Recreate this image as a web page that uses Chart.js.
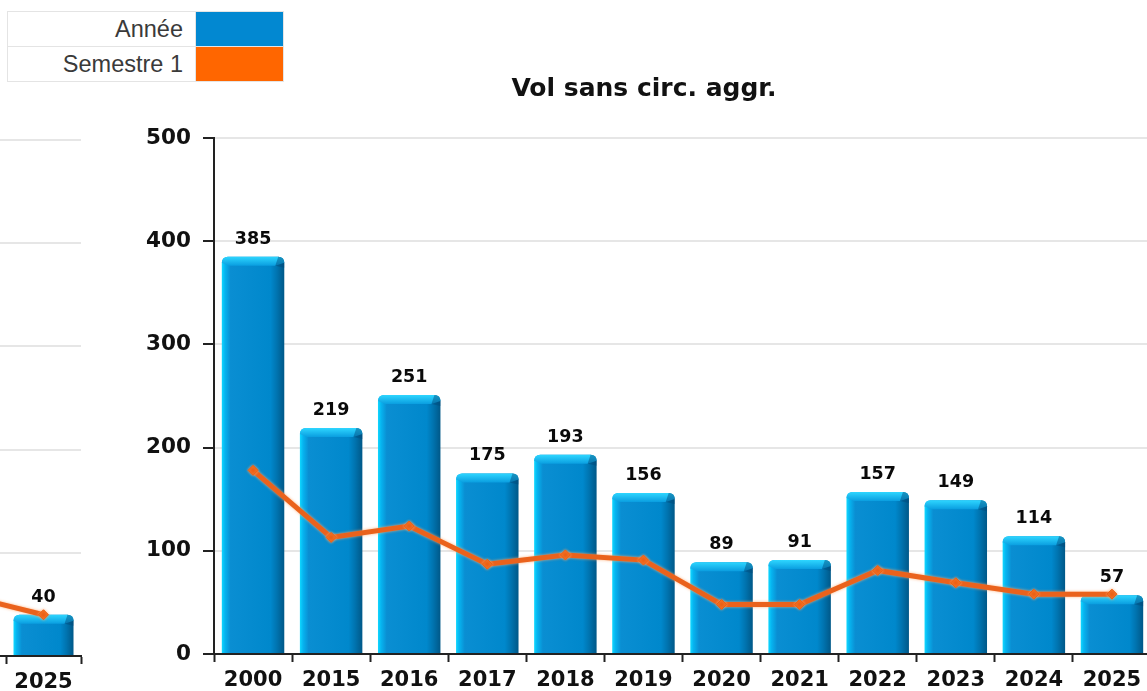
<!DOCTYPE html>
<html><head><meta charset="utf-8">
<script src="https://cdn.jsdelivr.net/npm/chart.js@4.4.1/dist/chart.umd.min.js"></script>
<style>
html,body{margin:0;padding:0;background:#fff;overflow:hidden;width:1147px;height:691px;}
#wrap{position:relative;width:1147px;height:691px;overflow:hidden;background:#fff;}
#side{position:absolute;left:-75px;top:0;}
#main{position:absolute;left:0;top:0;}
#legend{position:absolute;left:7px;top:11px;border-collapse:collapse;font-family:"Liberation Sans",Arial,sans-serif;font-size:23.5px;color:#3a3a3a;z-index:3;background:#fff;}
#legend td{border:1px solid #e4e4e4;height:34px;padding:0;line-height:34px;}
#legend td.lab{width:175px;text-align:right;padding-right:12px;}
#legend td.sw{width:87px;}
</style></head>
<body><div id="wrap">
<canvas id="side" width="176" height="691"></canvas>
<canvas id="main" width="1288" height="691"></canvas>
<table id="legend"></table>
</div>
<script>
// ---- data ----
const categories = ['2000','2015','2016','2017','2018','2019','2020','2021','2022','2023','2024','2025'];
const anneeValues = [385,219,251,175,193,156,89,91,157,149,114,57];
const semestreValues = [178,113,124,87,96,91,48,48,81,69,58,58];
const yTicks = [0,100,200,300,400,500];
const sideCategories = ['2024','2025'];
const sideAnnee = [null,40];
const sideSemestre = [58,40];
const seriesNames = ['Année','Semestre 1'];
const seriesColors = ['#0288d1','#ff6600'];
const titleText = 'Vol sans circ. aggr.';

// ---- legend ----
const leg = document.getElementById('legend');
seriesNames.forEach((n,i)=>{
  const tr = document.createElement('tr');
  const a = document.createElement('td'); a.className='lab'; a.textContent=n;
  const b = document.createElement('td'); b.className='sw'; b.style.background=seriesColors[i];
  tr.appendChild(a); tr.appendChild(b); leg.appendChild(tr);
});

const FONT = "'DejaVu Sans', Verdana, sans-serif";
const BAR_PCT = 0.8;

function barFill(ctx){
  const chart = ctx.chart;
  const xs = chart.scales && chart.scales.x;
  if(!xs || !chart.chartArea) return '#0088cc';
  const n = chart.data.labels.length;
  const cw = (xs.right - xs.left)/n;
  const w = cw*BAR_PCT;
  const cx = xs.getPixelForValue(ctx.dataIndex);
  const x0 = cx - w/2, x1 = cx + w/2;
  const g = chart.ctx.createLinearGradient(x0,0,x1,0);
  g.addColorStop(0,'#10d8ff');
  g.addColorStop(0.05,'#06b4f0');
  g.addColorStop(0.14,'#0a8ed2');
  g.addColorStop(0.78,'#0088cc');
  g.addColorStop(0.88,'#0074b0');
  g.addColorStop(1,'#005888');
  return g;
}

const bevelPlugin = {
  id:'bevel',
  afterDatasetDraw(chart, args){
    if(chart.data.datasets[args.index].type !== 'bar') return;
    const ctx = chart.ctx;
    args.meta.data.forEach(el=>{
      if(!el || el.skip) return;
      const p = el.getProps(['x','y','base','width'], true);
      if(!isFinite(p.y)) return;
      const l = p.x - p.width/2, r = p.x + p.width/2, t = p.y, h = 9;
      ctx.save();
      ctx.beginPath();
      ctx.moveTo(l, t+6); ctx.quadraticCurveTo(l, t, l+6, t);
      ctx.lineTo(r-6, t); ctx.quadraticCurveTo(r, t, r, t+6);
      ctx.lineTo(r-9, t+h); ctx.lineTo(l+7, t+h); ctx.closePath();
      const g = ctx.createLinearGradient(0,t,0,t+h);
      g.addColorStop(0,'#2ed6ff'); g.addColorStop(1,'#0a9ee0');
      ctx.fillStyle = g; ctx.fill();
      ctx.beginPath();
      ctx.moveTo(r-6, t); ctx.quadraticCurveTo(r, t, r, t+6);
      ctx.lineTo(r, t+h+2); ctx.lineTo(r-9, t+h); ctx.closePath();
      ctx.fillStyle = 'rgba(0,70,120,0.45)'; ctx.fill();
      ctx.restore();
    });
  }
};

const labelPlugin = {
  id:'vlabels',
  afterDatasetsDraw(chart){
    const ctx = chart.ctx;
    chart.data.datasets.forEach((ds,i)=>{
      if(ds.type !== 'bar') return;
      const meta = chart.getDatasetMeta(i);
      meta.data.forEach((el,j)=>{
        const v = ds.data[j];
        if(v === null || v === undefined) return;
        ctx.save();
        ctx.font = "bold 17.5px " + FONT;
        ctx.fillStyle = '#0a0a0a';
        ctx.textAlign = 'center';
        ctx.textBaseline = 'alphabetic';
        ctx.fillText(String(v), el.x, el.y - 13);
        ctx.restore();
      });
    });
  }
};

const glowPlugin = {
  id:'glow',
  beforeDatasetDraw(chart,args){
    if(chart.data.datasets[args.index].type === 'line'){
      chart.ctx.save();
      chart.ctx.shadowColor = 'rgba(255,170,110,0.9)';
      chart.ctx.shadowBlur = 3;
    }
  },
  afterDatasetDraw(chart,args){
    if(chart.data.datasets[args.index].type === 'line') chart.ctx.restore();
  }
};

function makeDatasets(barData, lineData){
  return [
    {type:'line', label:seriesNames[1], data:lineData, order:0,
     borderColor:'#ea621c', backgroundColor:'#ea621c', borderWidth:5, tension:0,
     pointStyle:'rectRot', pointRadius:5, pointBackgroundColor:'#ec5f12', pointBorderColor:'#ec5f12', pointBorderWidth:1},
    {type:'bar', label:seriesNames[0], data:barData, order:1,
     backgroundColor:barFill, borderWidth:0,
     borderRadius:{topLeft:6, topRight:6, bottomLeft:0, bottomRight:0}, borderSkipped:'bottom',
     categoryPercentage:1, barPercentage:BAR_PCT}
  ];
}

function xScale(height){
  return {
    type:'category', offset:true,
    grid:{display:true, drawOnChartArea:false, offset:true, tickLength:8, tickColor:'#222', tickWidth:2, color:'#222'},
    border:{display:true, color:'#222', width:2},
    ticks:{color:'#111', font:{family:FONT, size:21, weight:'bold'}, padding:6, maxRotation:0, autoSkip:false},
    afterFit(s){ s.height = height; }
  };
}

function yScale(width, showTicks){
  return {
    type:'linear', min:0, max:500,
    afterBuildTicks(s){ s.ticks = yTicks.map(v=>({value:v})); },
    grid:{color:'#e6e6e6', lineWidth:2, tickColor:'#222', tickWidth:2, tickLength:showTicks?11:0, drawTicks:showTicks},
    border:{display:showTicks, color:'#222', width:2},
    ticks:{display:showTicks, color:'#111', font:{family:FONT, size:21.5, weight:'bold'}, padding:12},
    afterFit(s){ s.width = width; }
  };
}

// main chart
new Chart(document.getElementById('main'), {
  data:{labels:categories, datasets:makeDatasets(anneeValues, semestreValues)},
  options:{
    responsive:false, animation:false, events:[],
    layout:{padding:{left:0,right:0,top:0,bottom:0}},
    plugins:{
      legend:{display:false}, tooltip:{enabled:false},
      title:{display:true, text:titleText, color:'#111',
        font:{family:FONT, size:25, weight:'bold', lineHeight:1.2},
        padding:{top:74, bottom:34}}
    },
    scales:{
      x:xScale(37),
      y:Object.assign(yScale(214, true), {position:'left'}),
      y2:{type:'linear', position:'right', min:0, max:1, display:true,
          grid:{display:false}, border:{display:false}, ticks:{display:false},
          afterFit(s){ s.width = 137; }}
    }
  },
  plugins:[bevelPlugin, labelPlugin, glowPlugin]
});

// partial chart at the left edge
new Chart(document.getElementById('side'), {
  data:{labels:sideCategories, datasets:makeDatasets(sideAnnee, sideSemestre)},
  options:{
    responsive:false, animation:false, events:[],
    layout:{padding:{left:0,right:20,top:140,bottom:0}},
    plugins:{legend:{display:false}, tooltip:{enabled:false}, title:{display:false}},
    scales:{
      x:xScale(35),
      y:yScale(0, false)
    }
  },
  plugins:[bevelPlugin, labelPlugin, glowPlugin]
});
</script>
</body></html>
